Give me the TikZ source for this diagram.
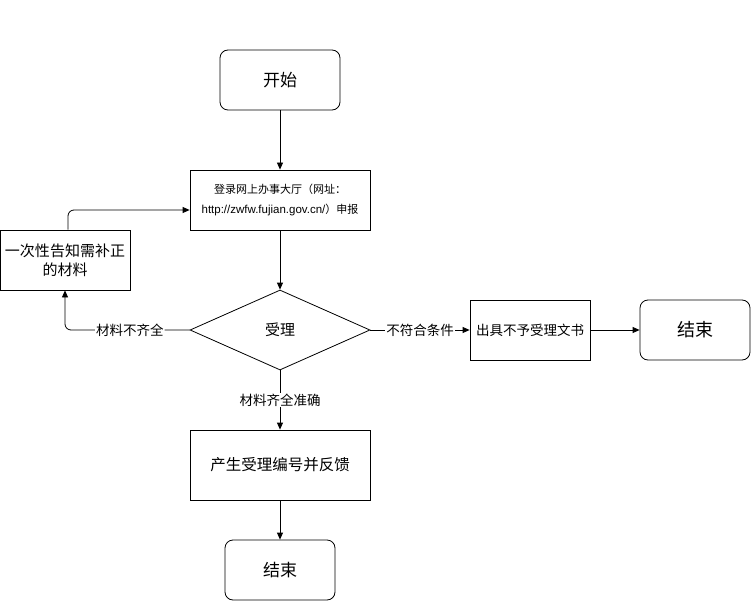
\documentclass[tikz,border=0pt]{standalone}
\usepackage{fontspec}
\setmainfont{Noto Sans CJK SC}
\newfontfamily\latinfont{Liberation Sans}
\usetikzlibrary{shapes.geometric,arrows.meta}
\begin{document}
\begin{tikzpicture}[x=1pt,y=-1pt,
  box/.style={draw,thick,minimum width=#1,inner sep=0pt,align=center},
  rbox/.style={draw,thick,rounded corners=8pt,inner sep=0pt,align=center},
  arr/.style={-{Triangle[length=7pt,width=6pt]},thick},
  lbl/.style={fill=white,inner sep=1pt,font=\fontsize{13.5}{15}\selectfont}]
\useasboundingbox (0,0) rectangle (751,601);
\node[rbox,minimum width=120pt,minimum height=60pt,font=\fontsize{17}{19}\selectfont] (start) at (280,80) {开始};
\node[box=180pt,minimum height=60pt,font=\fontsize{11}{20}\selectfont] (login) at (280,200) {登录网上办事大厅（网址：\\{\latinfont\fontsize{11.5}{20}\selectfont http://zwfw.fujian.gov.cn/}）申报};
\node[box=130pt,minimum height=60pt,font=\fontsize{15}{19}\selectfont] (notify) at (65,260) {一次性告知需补正\\的材料};
\node[draw,thick,diamond,aspect=2.25,minimum width=180pt,minimum height=80pt,inner sep=0pt,font=\fontsize{15}{17}\selectfont] (accept) at (280,330) {受理};
\node[box=120pt,minimum height=60pt,font=\fontsize{13.5}{15}\selectfont] (reject) at (530,330) {出具不予受理文书};
\node[rbox,minimum width=110pt,minimum height=60pt,font=\fontsize{18}{20}\selectfont] (end1) at (695,330) {结束};
\node[box=180pt,minimum height=70pt,font=\fontsize{15.5}{17}\selectfont] (feedback) at (280,465) {产生受理编号并反馈};
\node[rbox,minimum width=110pt,minimum height=60pt,font=\fontsize{17}{19}\selectfont] (end2) at (280,570) {结束};
\draw[arr] (start) -- (login);
\draw[arr] (login) -- (accept);
\draw[arr,rounded corners=6pt] (accept.west) -| node[lbl,pos=0.24] {材料不齐全} (notify.south);
\draw[arr,rounded corners=6pt] ([xshift=3pt]notify.north) |- ([yshift=-10pt]login.west);
\draw[arr] (accept.east) -- node[lbl] {不符合条件} (reject.west);
\draw[arr] (reject) -- (end1);
\draw[arr] (accept.south) -- node[lbl] {材料齐全准确} (feedback.north);
\draw[arr] (feedback) -- (end2);
\end{tikzpicture}
\end{document}
